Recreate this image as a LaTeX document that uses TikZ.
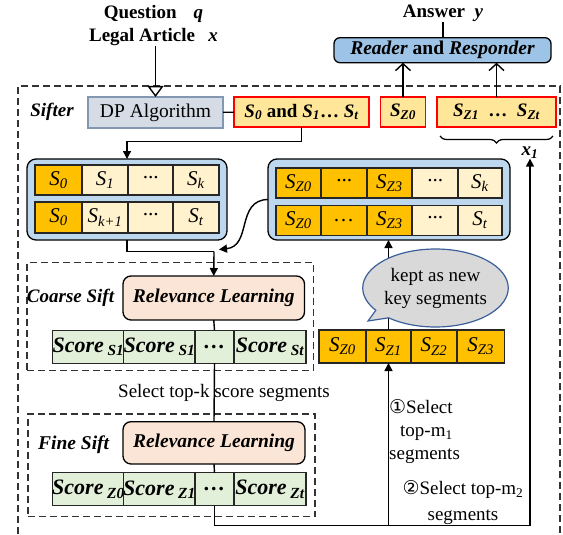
\documentclass[tikz,border=0pt]{standalone}
\usepackage{fontspec}
\setmainfont{Liberation Serif}
\newfontfamily\symfont{DejaVu Sans}
\usetikzlibrary{arrows.meta,shapes.callouts,decorations.pathreplacing,calc}
\definecolor{cOrange}{HTML}{FFC000}
\definecolor{cLight}{HTML}{FFF2CC}
\definecolor{cTop}{HTML}{FFE699}
\definecolor{cBlue}{HTML}{BDD7EE}
\definecolor{cReader}{HTML}{9DC3E6}
\definecolor{cPeach}{HTML}{FBE5D6}
\definecolor{cGreen}{HTML}{E2F0D9}
\definecolor{cDP}{HTML}{D6DCE5}
\definecolor{cDPb}{HTML}{8497B0}
\definecolor{cGrey}{HTML}{D9D9D9}
\definecolor{cEllB}{HTML}{3A5F9A}
\newcommand{\fsz}[1]{\fontsize{#1}{#1}\selectfont}
\newcommand{\sbi}[2]{\textbf{\textit{#1\textsubscript{#2}}}}
\newcommand{\si}[2]{\textit{#1\textsubscript{#2}}}
\tikzset{
  base/.style={inner sep=0pt, outer sep=0pt, line width=1.3pt},
  cell/.style={base, draw=black!85, minimum height=30pt, font=\fsz{21}\itshape},
  co/.style={cell, fill=cOrange},
  cl/.style={cell, fill=cLight},
  sc/.style={cell, fill=cGreen, minimum height=33pt, font=\fsz{22}\bfseries\itshape},
  cont/.style={base, draw=black, fill=cBlue, rounded corners=9pt},
  rel/.style={base, draw=black, fill=cPeach, rounded corners=8pt, font=\fsz{19.5}\bfseries\itshape},
  topbox/.style={base, line width=1.6pt, draw=red, fill=cTop, minimum height=30pt, font=\fsz{19}\bfseries},
  dashbox/.style={base, draw=black!80, line width=1.1pt, dash pattern=on 7pt off 4pt},
  conn/.style={line width=1.4pt, draw=black},
  arr/.style={conn, -{Triangle[length=8pt,width=8pt]}},
  barbarrow/.style={conn, -{Straight Barb[length=7pt,width=15pt]}},
  lbl/.style={inner sep=0pt, font=\fsz{19}},
}
\begin{document}
\begin{tikzpicture}[x=1pt,y=-1pt]
\useasboundingbox (0,0) rectangle (563,535);
% outer sifter frame
\draw[dashbox] (18,545) -- (18,86) -- (560,86) -- (560,545);
\node[lbl, font=\fsz{19}\bfseries\itshape] (sifter) at (52,111.7) {Sifter};

% top labels
\node[lbl, font=\fsz{19}\bfseries] (question) at (153.5,13.5) {Question\hspace{0.9em}\textit{q}};
\node[lbl, font=\fsz{19}\bfseries] (legal) at (153.5,37) {Legal Article\hspace{0.7em}\textit{x}};
\node[lbl, font=\fsz{19}\bfseries] (answer) at (443,13.5) {Answer\hspace{0.5em}\textit{y}};

\node[base, draw=black, fill=cReader, rounded corners=6pt, minimum width=217pt, minimum height=25pt, font=\fsz{19.5}\bfseries] (reader) at (442.5,50.2) {\textit{Reader} and \textit{Responder}};

\node[base, draw=cDPb, fill=cDP, minimum width=135pt, minimum height=31pt, font=\fsz{19.5}] (dp) at (155.5,112.5) {DP Algorithm};
\node[topbox, minimum width=135pt] (sbox) at (301.5,112) {\textit{S\textsubscript{0}} and \textit{S\textsubscript{1}}… \textit{S\textsubscript{t}}};
\node[topbox, minimum width=45pt] (sz0) at (403,112) {\sbi{S}{Z0}};
\node[topbox, minimum width=119pt] (sz1t) at (496.5,112) {\sbi{S}{Z1}\hspace{0.5em}…\hspace{0.5em}\sbi{S}{Zt}};

\draw[decorate, decoration={brace, mirror, amplitude=7pt}, line width=1.2pt] (440,136) -- (553,136);
\node[lbl, font=\fsz{19}\bfseries\itshape] (x1) at (530,152.7) {x\textsubscript{1}};

\draw[conn] (answer.south) -- (answer.south |- reader.north);
\draw[conn, -{Triangle[open,length=11pt,width=16pt]}] (dp.north |- legal.south) -- (dp.north);
\draw[barbarrow] (sz0.north) -- (sz0.north |- reader.south);
\draw[barbarrow] (sz1t.north) -- (sz1t.north |- reader.south);
\draw[conn] (dp) -- (sbox);

% containers
\node[cont, minimum width=200pt, minimum height=81pt] (leftc) at (127,199.5) {};
\node[cont, minimum width=242pt, minimum height=81pt] (rightc) at (389,199.5) {};

\node[co, minimum width=47pt] (L11) at (58.5,180) {\si{S}{0}};
\node[cl, minimum width=46pt] (L12) at (105,180) {\si{S}{1}};
\node[cl, minimum width=45pt] (L13) at (150.5,180) {···};
\node[cl, minimum width=46pt] (L14) at (196,180) {\si{S}{k}};
\node[co, minimum width=47pt, minimum height=31pt] (L21) at (58.5,217.5) {\si{S}{0}};
\node[cl, minimum width=46pt, minimum height=31pt] (L22) at (105,217.5) {\si{S}{k+1}};
\node[cl, minimum width=45pt, minimum height=31pt] (L23) at (150.5,217.5) {···};
\node[cl, minimum width=46pt, minimum height=31pt] (L24) at (196,217.5) {\si{S}{t}};

\node[co, minimum width=45pt] (R11) at (298.5,183) {\si{S}{Z0}};
\node[co, minimum width=46pt] (R12) at (344,183) {···};
\node[co, minimum width=45pt] (R13) at (389.5,183) {\si{S}{Z3}};
\node[cl, minimum width=46pt] (R14) at (435,183) {···};
\node[cl, minimum width=44pt] (R15) at (480,183) {\si{S}{k}};
\node[co, minimum width=45pt] (R21) at (298.5,220.5) {\si{S}{Z0}};
\node[co, minimum width=46pt] (R22) at (344,220.5) {…};
\node[co, minimum width=45pt] (R23) at (389.5,220.5) {\si{S}{Z3}};
\node[cl, minimum width=46pt] (R24) at (435,220.5) {···};
\node[cl, minimum width=44pt] (R25) at (480,220.5) {\si{S}{t}};

% coarse sift
\node[dashbox, minimum width=286.5pt, minimum height=108pt] (coarsebox) at (170.25,316.85) {};
\node[lbl, font=\fsz{19}\bfseries\itshape] (coarselbl) at (70.5,298) {Coarse Sift};
\node[rel, minimum width=181.5pt, minimum height=44pt] (crel) at (213.75,298) {Relevance Learning};
\node[sc, minimum width=71pt] (C1) at (88.5,346.7) {Score\,\textsubscript{S1}};
\node[sc, minimum width=71pt] (C2) at (159.5,346.7) {Score\,\textsubscript{S1}};
\node[sc, minimum width=39pt] (C3) at (214.5,346.7) {…};
\node[sc, minimum width=72pt] (C4) at (270,346.7) {Score\,\textsubscript{St}};

\node[lbl] (topk) at (224,393.3) {Select top-k score segments};

% fine sift
\node[dashbox, minimum width=287pt, minimum height=102.7pt] (finebox) at (171.5,465.35) {};
\node[lbl, font=\fsz{19.5}\bfseries\itshape] (finelbl) at (73.6,445) {Fine Sift};
\node[rel, minimum width=182pt, minimum height=42.3pt] (frel) at (214,442.85) {Relevance Learning};
\node[sc, minimum width=71pt] (F1) at (88.5,489.3) {Score\,\textsubscript{Z0}};
\node[sc, minimum width=71pt] (F2) at (159.5,489.3) {Score\,\textsubscript{Z1}};
\node[sc, minimum width=39pt] (F3) at (214.5,489.3) {…};
\node[sc, minimum width=72pt] (F4) at (270,489.3) {Score\,\textsubscript{Zt}};

% Sz row
\node[co, minimum width=47pt, minimum height=33pt] (Z0) at (342.5,346.5) {\si{S}{Z0}};
\node[co, minimum width=45pt, minimum height=33pt] (Z1) at (388.5,346.5) {\si{S}{Z1}};
\node[co, minimum width=46pt, minimum height=33pt] (Z2) at (434,346.5) {\si{S}{Z2}};
\node[co, minimum width=47.5pt, minimum height=33pt] (Z3) at (480.75,346.5) {\si{S}{Z3}};

% connectors
\coordinate (j) at (214,251.5);
\draw[arr] (sbox.south) -- ++(0,14.7) -| (leftc.north);
\draw[conn] (leftc.south) |- (j);
\draw[arr] (j) -- (crel.north);
\draw[arr] (rightc.west) .. controls (236,200) and (252,246) .. (219,249.5);
\draw[conn] (crel.south) -- (C3.north);
\draw[conn] (C3.south) -- (frel.north);
\draw[conn] (frel.south) -- (F3.north);
\coordinate (bl) at (214.5,525.5);
\draw[conn] (F3.south) -- (bl);
\draw[arr] (bl) -| (Z1.south);
\draw[arr] (bl) -| (x1.south);
\draw[arr] (Z1.north) -- (Z1.north |- rightc.south);

\node[ellipse callout, draw=cEllB, fill=cGrey, line width=1.2pt, minimum width=145pt, minimum height=78pt, inner sep=0pt, callout absolute pointer={(368,321)}, align=center, font=\fontsize{19}{23}\selectfont] (kept) at (435.5,288) {kept as new\\key segments};

% step labels
\node[lbl, anchor=west] (s1a) at (389,407) {{\symfont\fsz{19}①}Select};
\node[lbl, anchor=west] (s1b) at (400,433) {top-m\textsubscript{1}};
\node[lbl, anchor=west] (s1c) at (389,456) {segments};
\node[lbl] (s2a) at (463,490) {{\symfont\fsz{19}②}Select top-m\textsubscript{2}};
\node[lbl] (s2b) at (463,516.7) {segments};
\end{tikzpicture}
\end{document}
